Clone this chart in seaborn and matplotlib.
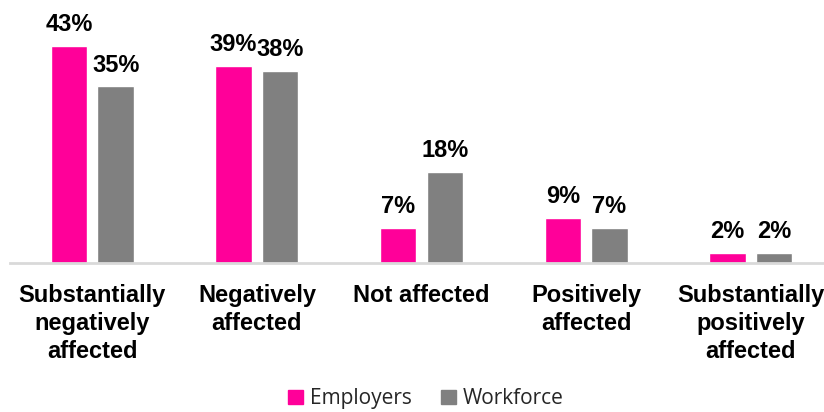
import matplotlib
matplotlib.use("Agg")
import matplotlib.pyplot as plt
import seaborn as sns
import pandas as pd

categories = ["Substantially\nnegatively\naffected", "Negatively\naffected", "Not affected",
              "Positively\naffected", "Substantially\npositively\naffected"]
series_names = ["Employers", "Workforce"]
employers = [43, 39, 7, 9, 2]
workforce = [35, 38, 18, 7, 2]
colors = ["#FF0099", "#808080"]

df = pd.DataFrame({
    "category": categories * 2,
    "group": [series_names[0]] * len(categories) + [series_names[1]] * len(categories),
    "value": employers + workforce,
})

sns.set_style("white")
plt.rcParams["font.family"] = ["Liberation Sans", "DejaVu Sans"]

fig = plt.figure(figsize=(8.24, 4.12), dpi=100)
ax = fig.add_axes([10 / 824, 1 - 263 / 412, 823 / 824, (263 - 10.6) / 412])

sns.barplot(data=df, x="category", y="value", hue="group", palette=colors,
            width=0.567, gap=0.22, ax=ax, legend=False, saturation=1)

for container in ax.containers:
    ax.bar_label(container, labels=[f"{v:.0f}%" for v in container.datavalues],
                 padding=7, fontsize=17, fontweight="bold", color="black")

ax.set_ylim(0, 50)
ax.set_xlim(-0.5, len(categories) - 0.5)
ax.set_xlabel("")
ax.set_ylabel("")
ax.set_yticks([])
for side in ["top", "right", "left"]:
    ax.spines[side].set_visible(False)
ax.spines["bottom"].set_color("#D9D9D9")
ax.spines["bottom"].set_linewidth(2)
ax.tick_params(axis="x", length=0, pad=15)
ax.set_xticks(range(len(categories)))
ax.set_xticklabels(categories, fontsize=17, fontweight="bold", linespacing=1.29,
                   va="top", color="black")

handles = [plt.Rectangle((0, 0), 1, 1, color=c) for c in colors]
fig.legend(handles, series_names, loc="center", bbox_to_anchor=(0.517, 0.032), ncol=2,
           frameon=False, prop={"family": "Open Sans", "size": 15},
           handlelength=0.7, handleheight=0.7, columnspacing=1.4, handletextpad=0.35)

fig.savefig("out.png", dpi=100)
